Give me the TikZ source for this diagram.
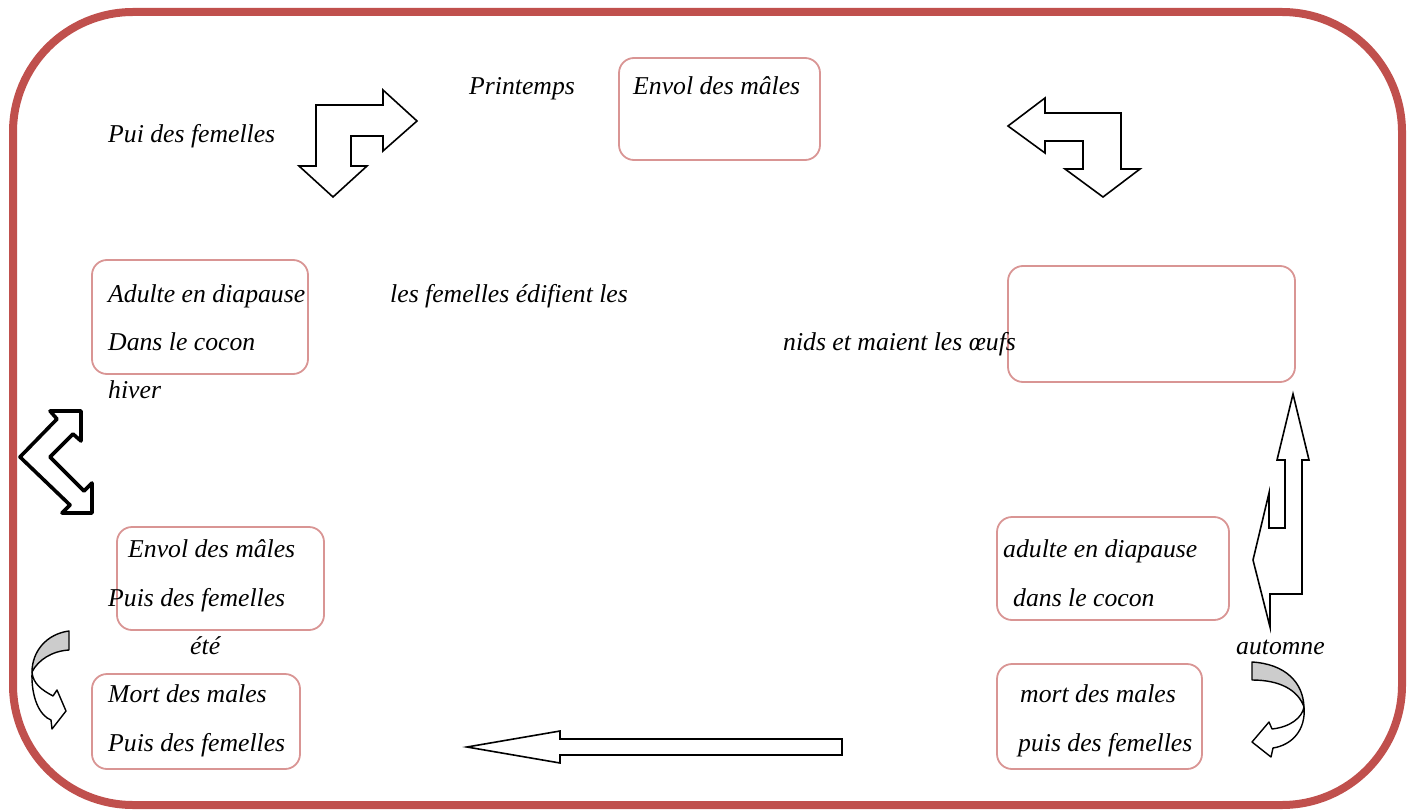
\documentclass[tikz,border=0pt]{standalone}
\usepackage{fontspec}
\setmainfont{Liberation Serif}
\definecolor{frame}{HTML}{C0504D}
\definecolor{boxpink}{HTML}{D99594}
\definecolor{bandgray}{HTML}{CCCCCC}
\begin{document}
\begin{tikzpicture}[x=1pt,y=-1pt,
  box/.style={draw=boxpink, line width=1.8pt, rounded corners=15pt},
  lbl/.style={anchor=base west, inner sep=0pt, font=\fontsize{25.7}{30}\selectfont\itshape},
  blockarrow/.style={draw=black, line width=1.6pt, fill=white, line join=miter},
  thickarrow/.style={draw=black, line width=3.6pt, fill=white, line join=round},
  curvearrow/.style={draw=black, line width=1.4pt, line join=round}]
\useasboundingbox (0,0) rectangle (1415,810);
% outer frame
\draw[frame, line width=8pt, rounded corners=120pt] (13,12) rectangle (1402,805);
% boxes
\path[box] (619,58) rectangle (820,160);
\path[box] (92,260) rectangle (308,374);
\path[box] (1008,266) rectangle (1295,382);
\path[box] (117,527) rectangle (324,630);
\path[box] (997,517) rectangle (1229,620);
\path[box] (92,674) rectangle (300,769);
\path[box] (997,664) rectangle (1202,769);
% texts
\node[lbl] (t1) at (469,95) {Printemps};
\node[lbl] (t2) at (633,95) {Envol des mâles};
\node[lbl] (t3) at (108,143) {Pui des femelles};
\node[lbl] (t4) at (108,302) {Adulte en diapause};
\node[lbl] (t5) at (390,302) {les femelles édifient les};
\node[lbl] (t6) at (108,350) {Dans le cocon};
\node[lbl] (t7) at (783,350) {nids et maient les œufs};
\node[lbl] (t8) at (108,398) {hiver};
\node[lbl] (t9) at (128,557) {Envol des mâles};
\node[lbl] (t10) at (1003,557) {adulte en diapause};
\node[lbl] (t11) at (108,606) {Puis des femelles};
\node[lbl] (t12) at (1013,606) {dans le cocon};
\node[lbl] (t13) at (190,654) {été};
\node[lbl] (t14) at (1236,654) {automne};
\node[lbl] (t15) at (108,702) {Mort des males};
\node[lbl] (t16) at (1020,702) {mort des males};
\node[lbl] (t17) at (108,751) {Puis des femelles};
\node[lbl] (t18) at (1018,751) {puis des femelles};
% bent arrow top-left
\draw[blockarrow] (333,197) -- (299,166) -- (316,166) -- (316,105) -- (383,105) -- (383,90)
  -- (417,121) -- (383,151) -- (383,136) -- (351,136) -- (351,166) -- (367,166) -- cycle;
% bent arrow top-right
\draw[blockarrow] (1008,126) -- (1045,98) -- (1045,113) -- (1121,113) -- (1121,169) -- (1140,169)
  -- (1103,197) -- (1065,169) -- (1083,169) -- (1083,141) -- (1045,141) -- (1045,153) -- cycle;
% chevron double arrow left
\draw[thickarrow] (20,457) -- (57,419) -- (50,411) -- (81,411) -- (81,441) -- (73,434) -- (50,457)
  -- (84,491) -- (92,483) -- (92,513) -- (62,513) -- (70,505) -- cycle;
% vertical double arrow right
\draw[blockarrow] (1293,394) -- (1309,460) -- (1302,460) -- (1302,594) -- (1270,594) -- (1270,627)
  -- (1253,560) -- (1269,493) -- (1269,528) -- (1285,528) -- (1285,460) -- (1277,460) -- cycle;
% long left arrow
\draw[blockarrow] (467,747) -- (560,731) -- (560,739) -- (842,739) -- (842,755) -- (560,755) -- (560,763) -- cycle;
% curved arrow bottom-left
\draw[curvearrow, fill=bandgray] (69,631) .. controls (46,634) and (32,652) .. (32,672)
  .. controls (38,660) and (52,651) .. (69,650) -- cycle;
\draw[curvearrow, fill=white] (32,672) .. controls (31,698) and (40,716) .. (51,720) -- (52,729)
  -- (66,711) -- (57,690) -- (53,696) .. controls (42,690) and (33,684) .. (32,672) -- cycle;
% curved arrow bottom-right
\draw[curvearrow, fill=bandgray] (1252,662) .. controls (1285,664) and (1303,682) .. (1304,707)
  .. controls (1298,690) and (1280,680) .. (1252,680) -- cycle;
\draw[curvearrow, fill=white] (1304,707) .. controls (1306,730) and (1292,745) .. (1273,748)
  -- (1271,757) -- (1252,742) -- (1269,722) -- (1272,729)
  .. controls (1290,727) and (1302,718) .. (1304,707) -- cycle;
\end{tikzpicture}
\end{document}
